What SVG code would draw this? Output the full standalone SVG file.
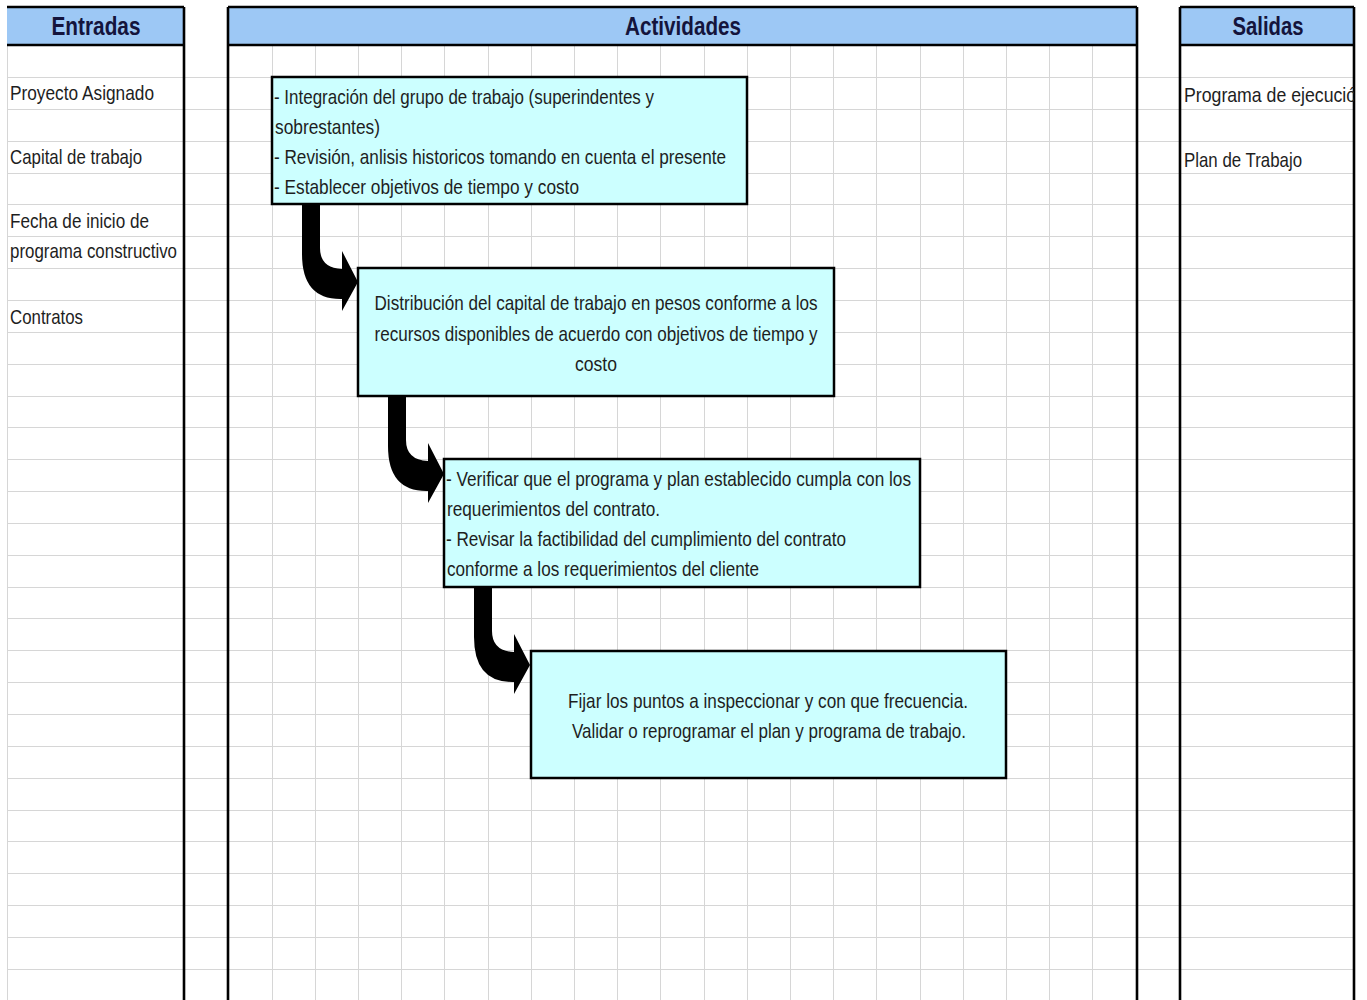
<svg xmlns="http://www.w3.org/2000/svg" width="1367" height="1000" viewBox="0 0 1367 1000">
<defs>
<style>
.grid{stroke:#d6d6d6;stroke-width:1;fill:none}
.hdr{fill:#9dc8f5}
.border{stroke:#000;stroke-width:2.6;fill:none}
.htxt{font-family:"Liberation Sans",Arial,sans-serif;font-weight:bold;font-size:26px;fill:#14143c;text-anchor:middle}
.txt{font-family:"Liberation Sans",Arial,sans-serif;font-size:21px;fill:#1e1e1e}
.mid{text-anchor:middle}
.box{fill:#ccffff;stroke:#000;stroke-width:2.5}
.arrow{fill:#000}
</style>
<clipPath id="clipSal"><rect x="1180" y="45" width="174" height="955"/></clipPath>
<path id="bentArrow" d="M0 0 H18 V44 Q18 64 40 65 V47 L56 78 L40 107 V95 Q0 96 0 50 Z"/>
</defs>
<rect width="1367" height="1000" fill="#fff"/>
<g id="grid">
<path class="grid" d="M7 77.5H1354M7 109.5H1354M7 141.5H1354M7 173.5H1354M7 204.5H1354M7 236.5H1354M7 268.5H1354M7 300.5H1354M7 332.5H1354M7 364.5H1354M7 396.5H1354M7 427.5H1354M7 459.5H1354M7 491.5H1354M7 523.5H1354M7 555.5H1354M7 587.5H1354M7 618.5H1354M7 650.5H1354M7 682.5H1354M7 714.5H1354M7 746.5H1354M7 778.5H1354M7 810.5H1354M7 841.5H1354M7 873.5H1354M7 905.5H1354M7 937.5H1354M7 969.5H1354"/>
<path class="grid" d="M7.5 45V1000M272.5 45V1000M315.5 45V1000M358.5 45V1000M401.5 45V1000M444.5 45V1000M488.5 45V1000M531.5 45V1000M574.5 45V1000M617.5 45V1000M660.5 45V1000M704.5 45V1000M747.5 45V1000M790.5 45V1000M833.5 45V1000M876.5 45V1000M920.5 45V1000M963.5 45V1000M1006.5 45V1000M1049.5 45V1000M1092.5 45V1000"/>
</g>
<g id="col-entradas">
<rect class="hdr" x="7" y="7" width="177" height="38"/>
<path class="border" d="M7 7H184M7 45H184M184 7V1000"/>
<text class="htxt" x="96" y="35" textLength="89" lengthAdjust="spacingAndGlyphs">Entradas</text>
<text class="txt" x="10" y="100" textLength="144" lengthAdjust="spacingAndGlyphs">Proyecto Asignado</text>
<text class="txt" x="10" y="164" textLength="132" lengthAdjust="spacingAndGlyphs">Capital de trabajo</text>
<text class="txt" x="10" y="228" textLength="139" lengthAdjust="spacingAndGlyphs">Fecha de inicio de</text>
<text class="txt" x="10" y="258" textLength="167" lengthAdjust="spacingAndGlyphs">programa constructivo</text>
<text class="txt" x="10" y="324" textLength="73" lengthAdjust="spacingAndGlyphs">Contratos</text>
</g>
<g id="col-actividades">
<rect class="hdr" x="228" y="7" width="909" height="38"/>
<path class="border" d="M228 7H1137M228 45H1137M228 7V1000M1137 7V1000"/>
<text class="htxt" x="683" y="35" textLength="116" lengthAdjust="spacingAndGlyphs">Actividades</text>
</g>
<g id="col-salidas">
<rect class="hdr" x="1180" y="7" width="174" height="38"/>
<path class="border" d="M1180 7H1354M1180 45H1354M1180 7V1000M1354 7V1000"/>
<text class="htxt" x="1268" y="35" textLength="71" lengthAdjust="spacingAndGlyphs">Salidas</text>
<g clip-path="url(#clipSal)">
<text class="txt" x="1184" y="102" textLength="182" lengthAdjust="spacingAndGlyphs">Programa de ejecución</text>
</g>
<text class="txt" x="1184" y="167" textLength="118" lengthAdjust="spacingAndGlyphs">Plan de Trabajo</text>
</g>
<g id="node1">
<rect class="box" x="272" y="77" width="475" height="127"/>
<text class="txt" x="274" y="104" textLength="380" lengthAdjust="spacingAndGlyphs">- Integración del grupo de trabajo (superindentes y</text>
<text class="txt" x="275" y="134" textLength="105" lengthAdjust="spacingAndGlyphs">sobrestantes)</text>
<text class="txt" x="274" y="164" textLength="452" lengthAdjust="spacingAndGlyphs">- Revisión, anlisis historicos tomando en cuenta el presente</text>
<text class="txt" x="274" y="194" textLength="305" lengthAdjust="spacingAndGlyphs">- Establecer objetivos de tiempo y costo</text>
</g>
<g id="node2">
<rect class="box" x="358" y="268" width="476" height="128"/>
<text class="txt mid" x="596" y="310" textLength="443" lengthAdjust="spacingAndGlyphs">Distribución del capital de trabajo en pesos conforme a los</text>
<text class="txt mid" x="596" y="341" textLength="443" lengthAdjust="spacingAndGlyphs">recursos disponibles de acuerdo con objetivos de tiempo y</text>
<text class="txt mid" x="596" y="371" textLength="42" lengthAdjust="spacingAndGlyphs">costo</text>
</g>
<g id="node3">
<rect class="box" x="444" y="459" width="476" height="128"/>
<text class="txt" x="446" y="486" textLength="465" lengthAdjust="spacingAndGlyphs">- Verificar que el programa y plan establecido cumpla con los</text>
<text class="txt" x="447" y="516" textLength="213" lengthAdjust="spacingAndGlyphs">requerimientos del contrato.</text>
<text class="txt" x="446" y="546" textLength="400" lengthAdjust="spacingAndGlyphs">- Revisar la factibilidad del cumplimiento del contrato</text>
<text class="txt" x="447" y="576" textLength="312" lengthAdjust="spacingAndGlyphs">conforme a los requerimientos del cliente</text>
</g>
<g id="node4">
<rect class="box" x="531" y="651" width="475" height="127"/>
<text class="txt mid" x="768" y="708" textLength="400" lengthAdjust="spacingAndGlyphs">Fijar los puntos a inspeccionar y con que frecuencia.</text>
<text class="txt mid" x="769" y="738" textLength="394" lengthAdjust="spacingAndGlyphs">Validar o reprogramar el plan y programa de trabajo.</text>
</g>
<g id="connectors">
<use href="#bentArrow" class="arrow" transform="translate(302 204)"/>
<use href="#bentArrow" class="arrow" transform="translate(388 396)"/>
<use href="#bentArrow" class="arrow" transform="translate(474 587)"/>
</g>
</svg>
